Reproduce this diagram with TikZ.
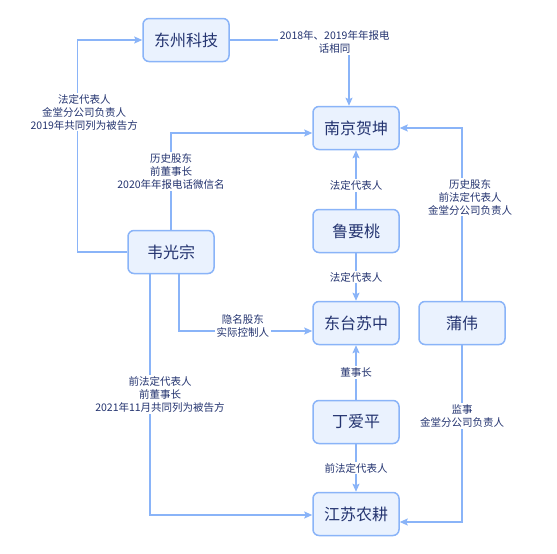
\documentclass[tikz,border=0pt]{standalone}
\usepackage{fontspec}
\setmainfont{Noto Sans CJK SC}
\usetikzlibrary{arrows.meta,positioning}
\definecolor{relblue}{RGB}{138,180,248}
\definecolor{relfill}{RGB}{234,242,254}
\definecolor{relink}{RGB}{36,52,112}

\begin{document}
\begin{tikzpicture}[x=1pt,y=-1pt,>={Stealth[length=8pt,width=7pt,inset=1.5pt]},
    party/.style={draw=relblue,fill=relfill,line width=1.5pt,rounded corners=6pt,
      minimum width=86pt,minimum height=43pt,text=relink,font=\fontsize{16}{18}\selectfont},
    link/.style={->,draw=relblue,line width=1.5pt},
    lbl/.style={fill=white,text=relink,align=center,inner sep=1.5pt,font=\fontsize{10.5}{13}\selectfont}]
    \useasboundingbox[fill=white] (0,0) rectangle (557,554);
    \node[party] (dzkj) at (186,40) {东州科技};
    \node[party] (ngk)  at (356,128) {南京贺坤};
    \node[party] (lyt)  at (356,231) {鲁要桃};
    \node[party] (dtsz) at (356,323) {东台苏中};
    \node[party] (pw)   at (462,323) {蒲伟};
    \node[party] (dap)  at (356,422) {丁爱平};
    \node[party] (jsng) at (356,514) {江苏农耕};
    \node[party] (wgz)  at (171,252) {韦光宗};

    \draw[link] (wgz.west) -- ++(-50,0) |- node[lbl,pos=.33,xshift=7pt]{法定代表人\\金堂分公司负责人\\2019年共同列为被告方} (dzkj.west);
    \draw[link] (dzkj.east) -| node[lbl,pos=.44,yshift=-2pt]{2018年、2019年年报电\\话相同} ([xshift=-7pt]ngk.north);
    \draw[link] (wgz.north) |- node[lbl,pos=.3]{历史股东\\前董事长\\2020年年报电话微信名} ([yshift=-5pt]ngk.west);
    \draw[link] (lyt) -- node[lbl,pos=.4]{法定代表人} (ngk);
    \draw[link] (pw.north) |- node[lbl,pos=.3,xshift=8pt]{历史股东\\前法定代表人\\金堂分公司负责人} (ngk.east);
    \draw[link] (lyt) -- node[lbl]{法定代表人} (dtsz);
    \draw[link] (dap) -- node[lbl]{董事长} (dtsz);
    \draw[link] ([xshift=8pt]wgz.south) |- node[lbl,pos=.74,yshift=5pt]{隐名股东\\实际控制人} ([yshift=-8pt]dtsz.west);
    \draw[link] ([xshift=-21pt]wgz.south) |- node[lbl,pos=.25,xshift=10pt]{前法定代表人\\前董事长\\2021年11月共同列为被告方} ([yshift=-1pt]jsng.west);
    \draw[link] (dap) -- node[lbl]{前法定代表人} (jsng);
    \draw[link] (pw.south) |- node[lbl,pos=.2]{监事\\金堂分公司负责人} ([yshift=-8pt]jsng.east);
\end{tikzpicture}
\end{document}
